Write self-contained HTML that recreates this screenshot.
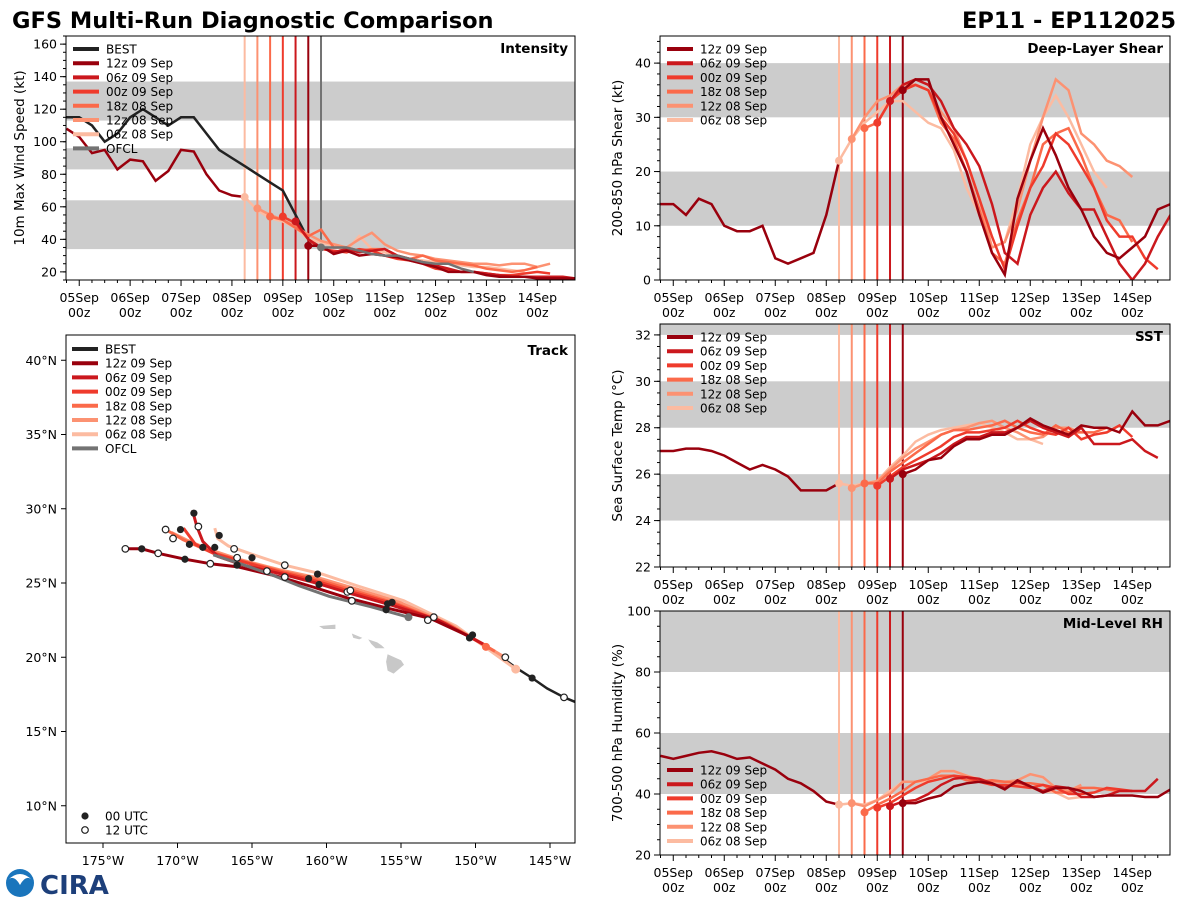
<!DOCTYPE html>
<html><head><meta charset="utf-8">
<style>
html,body{margin:0;padding:0;background:#fff;}
body{width:1200px;height:900px;overflow:hidden;font-family:"DejaVu Sans","Liberation Sans",sans-serif;}
svg text{font-family:"DejaVu Sans","Liberation Sans",sans-serif;}
</style></head>
<body>
<svg id="fig" width="1200" height="900" viewBox="0 0 1200 900" xmlns="http://www.w3.org/2000/svg">
<text x="12" y="28" font-size="22.5" font-weight="bold" fill="#000">GFS Multi-Run Diagnostic Comparison</text>
<text x="1176" y="28" font-size="22.5" font-weight="bold" fill="#000" text-anchor="end">EP11 - EP112025</text>
<g id="logo">
<circle cx="20" cy="883" r="14" fill="#1a75bc"/>
<path d="M8 880 Q20 868 32 880 Q26 874 20 885 Q14 874 8 880Z" fill="#fff"/>
<text x="40" y="894" font-size="26" font-weight="bold" fill="#1d3f7a" font-family="Liberation Serif,serif">CIRA</text>
</g>
</svg>
<script>
const NS='http://www.w3.org/2000/svg';
const svg=document.getElementById('fig');
function mk(tag,attrs,parent){const e=document.createElementNS(NS,tag);for(const k in attrs)e.setAttribute(k,attrs[k]);(parent||svg).appendChild(e);return e;}

// ---- shared data ----
const runNames=['12z 09 Sep','06z 09 Sep','00z 09 Sep','18z 08 Sep','12z 08 Sep','06z 08 Sep'];
const runColors=['#99000d','#cb181d','#ef3b2c','#fb6a4a','#fc9272','#fcbba1'];
const runStarts=[4.5,4.25,4.0,3.75,3.5,3.25];
const dayLabels=['05Sep','06Sep','07Sep','08Sep','09Sep','10Sep','11Sep','12Sep','13Sep','14Sep'];
const histStart=-0.25;

// ---- intensity ----
const intBest=[115,115,110,100,105,115,120,115,110,115,115,105,95,90,85,80,75,70,55,40,35];
const intHist=[108,103,93,95,83,89,88,76,82,95,94,80,70,67,66];
const intRuns=[
[36,36,31,33,30,31,30,29,27,25,23,20,20,20,18,17,17,17,16,16,16,16],
[51,40,35,32,34,32,33,34,30,28,26,24,22,20,20,19,18,17,17,17,17,17,16,16],
[54,50,40,34,33,32,34,33,30,28,27,25,22,21,20,20,19,18,18,19,20,19],
[54,52,47,42,46,35,35,33,34,34,30,28,30,27,26,25,24,22,21,20,21,23],
[59,55,52,48,43,39,37,35,40,44,37,33,31,30,28,27,26,25,25,24,25,25,23,25],
[66,58,53,51,47,40,38,36,33,42,34,32,30,28,27,26,25,24,23,23,22,21,20]];
const intOfcl=[35,35,35,33,31,30,30,28,26,25,25,22,20];
const intTicks=[20,40,60,80,100,120,140,160];

// ---- shear ----
const shrHist=[14,14,12,15,14,10,9,9,10,4,3,4,5,12,22];
const shrRuns=[
[35,37,37,30,25,20,12,5,1,15,22,28,23,17,13,8,5,4,6,8,13,14],
[33,36,37,36,33,28,25,21,14,5,3,12,17,20,16,13,13,8,3,0,3,8,12],
[29,33,35,36,35,30,27,22,15,8,2,10,17,21,27,25,21,17,11,8,8,4,2],
[28,29,33,35,36,35,29,26,20,13,5,3,11,17,25,27,28,23,17,12,11,7],
[26,30,33,34,36,36,35,31,28,22,15,6,7,13,22,30,37,35,27,25,22,21,19],
[22,26,29,31,33,33,31,29,28,24,17,12,6,7,15,25,30,34,30,25,20,17]];
const shrTicks=[0,10,20,30,40];

// ---- SST ----
const sstHist=[27.0,27.0,27.1,27.1,27.0,26.8,26.5,26.2,26.4,26.2,25.9,25.3,25.3,25.3,25.6];
const sstRuns=[
[26.0,26.2,26.6,26.7,27.2,27.5,27.5,27.7,27.7,28.0,28.4,28.1,27.9,27.7,28.1,28.0,28.0,27.8,28.7,28.1,28.1,28.3],
[25.8,26.2,26.4,26.6,26.9,27.3,27.6,27.6,27.8,27.8,28.0,28.3,28.0,27.8,27.6,28.0,27.3,27.3,27.3,27.5,27.0,26.7],
[25.5,25.9,26.3,26.6,26.9,27.2,27.6,27.8,27.8,27.9,28.0,28.3,28.0,27.8,27.7,28.0,27.5,27.7,27.8,28.1,27.6],
[25.6,25.6,26.1,26.5,26.9,27.3,27.7,27.9,27.9,28.0,28.1,28.3,28.0,27.8,27.7,28.1,27.8,27.8,27.8,28.0],
[25.4,25.6,25.7,26.2,26.7,27.1,27.4,27.7,27.9,28.0,28.2,28.3,28.0,27.8,27.5,27.6,28.0,28.0,27.8],
[25.6,25.5,25.6,25.7,26.3,26.8,27.4,27.7,27.9,28.0,28.1,28.2,28.0,27.8,27.5,27.5,27.3]];
const sstTicks=[22,24,26,28,30,32];

// ---- RH ----
const rhHist=[52.5,51.5,52.5,53.5,54,53,51.5,52,50,48,45,43.5,41,37.5,36.5];
const rhRuns=[
[37,37,38.5,39.5,42.5,43.5,44,43.5,41.5,44.5,42.5,40.5,42,42,41,39,39.5,39.5,39.5,39,39,41.5],
[36,37.5,38,40,43,45,45.5,45,43.5,42,44,42.5,41,42.5,42,39,39,39.5,41,41,41,45],
[35.5,37,39.5,42,44,45,46,45.5,44,43,43,42.5,42,43,42,40,40,40.5,42,41.5,41],
[34,36.5,38.5,41,44,45,46,46,44.5,44,44.5,44,43.5,43.5,43,40.5,40.5,42,42,41.5,41],
[37,36,38,40,44,44,45,47.5,47.5,46,44.5,44,44,44.5,46.5,45.5,42,41,43],
[36.5,37,36.5,38,41,44,44,44,47.5,47.5,46,45,44,44,43,42,41,40.5,38.5,39]];
const rhTicks=[20,40,60,80,100];

function panel(cfg){
  const g=mk('g',{});
  
  
  const L=cfg.left,T=cfg.top,W=cfg.w,H=cfg.h;
  const X=t=>L+(t+0.26)*W/10;
  const Y=v=>T+H-(v-cfg.ymin)/(cfg.ymax-cfg.ymin)*H;
  mk('rect',{x:L,y:T,width:W,height:H,fill:'#fff'},g);
  cfg.bands.forEach(b=>{const y1=Math.max(Y(b[1]),T),y2=Math.min(Y(b[0]),T+H);
    const r=mk('rect',{x:L,y:y1,width:W,height:y2-y1,fill:'#cccccc'},g);
    
    });
  const vl=cfg.ofcl?[[4.75,'#737373']]:[];
  runStarts.forEach((s,i)=>vl.push([s,runColors[i]]));
  vl.forEach(v=>{const l=mk('line',{x1:X(v[0]),x2:X(v[0]),y1:T,y2:T+H,stroke:v[1],'stroke-width':2},g);
    
    });
  const pts=(arr,t0)=>arr.map((v,i)=>X(t0+i*0.25).toFixed(1)+','+Y(v).toFixed(1)).join(' ');
  const clip='clip-'+cfg.name;
  const cp=mk('clipPath',{id:clip},g);mk('rect',{x:L,y:T,width:W,height:H},cp);
  const pg=mk('g',{'clip-path':'url(#'+clip+')'},g);
  if(cfg.best){const l=mk('polyline',{points:pts(cfg.best,histStart),fill:'none',stroke:'#222','stroke-width':2.5},pg);
    
    }
  const h=mk('polyline',{points:pts(cfg.hist,histStart),fill:'none',stroke:runColors[0],'stroke-width':2.5},pg);
  
  
  for(let i=5;i>=0;i--){
    const l=mk('polyline',{points:pts(cfg.runs[i],runStarts[i]),fill:'none',stroke:runColors[i],'stroke-width':2.5},pg);
    
    
    const c=mk('circle',{cx:X(runStarts[i]),cy:Y(cfg.runs[i][0]),r:4,fill:runColors[i]},pg);
    
    
  }
  if(cfg.ofcl){const l=mk('polyline',{points:pts(cfg.ofcl,4.75),fill:'none',stroke:'#737373','stroke-width':2.5},pg);
    
    
    mk('circle',{cx:X(4.75),cy:Y(cfg.ofcl[0]),r:4,fill:'#737373'},pg);}
  mk('rect',{x:L,y:T,width:W,height:H,fill:'none',stroke:'#000','stroke-width':1},g);
  for(let v=cfg.ymin;v<=cfg.ymax+1e-6;v+=cfg.minor){ if(Math.abs(v-Math.round(v/cfg.minor)*cfg.minor)>1e-6)continue;
    mk('line',{x1:L-3,x2:L,y1:Y(v),y2:Y(v),stroke:'#000','stroke-width':1},g);}
  cfg.ticks.forEach(v=>{mk('line',{x1:L-6,x2:L,y1:Y(v),y2:Y(v),stroke:'#000','stroke-width':1},g);
    const t=mk('text',{x:L-9,y:Y(v)+4.5,'font-size':12.5,'text-anchor':'end'},g);t.textContent=v;
    
    });
  for(let k=-1;k<=39;k++){const t=k*0.25;const x=X(t);if(x<L-0.5||x>L+W+0.5)continue;
    const major=k%4===0;mk('line',{x1:x,x2:x,y1:T+H,y2:T+H+(major?6:3),stroke:'#000','stroke-width':1},g);}
  dayLabels.forEach((d,i)=>{const x=X(i);
    const a=mk('text',{x:x,y:T+H+22,'font-size':12.5,'text-anchor':'middle'},g);a.textContent=d;
    
    
    const b=mk('text',{x:x,y:T+H+37,'font-size':12.5,'text-anchor':'middle'},g);b.textContent='00z';});
  const yt=mk('text',{x:0,y:0,'font-size':13.5,'text-anchor':'middle',transform:'translate('+cfg.ylabX+','+(T+H/2)+') rotate(-90)'},g);
  yt.textContent=cfg.ylabel;
  
  
  const tt=mk('text',{x:L+W-7,y:T+17,'font-size':13.5,'font-weight':'bold','text-anchor':'end'},g);
  tt.textContent=cfg.title;
  
  
  const items=[];
  if(cfg.best)items.push(['BEST','#222']);
  runNames.forEach((n,i)=>items.push([n,runColors[i]]));
  if(cfg.ofcl)items.push(['OFCL','#737373']);
  items.forEach((it,i)=>{const y=cfg.legY+i*14.2;
    const l=mk('line',{x1:L+7,x2:L+33,y1:y,y2:y,stroke:it[1],'stroke-width':4},g);
    
    
    const t=mk('text',{x:L+40,y:y+4.5,'font-size':12},g);t.textContent=it[0];
    
    });
}
panel({name:'intensity',left:66,top:36,w:509,h:244,ymin:15,ymax:165,minor:5,ticks:intTicks,bands:[[34,64],[83,96],[113,137]],
  best:intBest,hist:intHist,runs:intRuns,ofcl:intOfcl,ylabel:'10m Max Wind Speed (kt)',ylabX:24,title:'Intensity',legY:49});
panel({name:'shear',left:660,top:36,w:510,h:244,ymin:0,ymax:45,minor:2,ticks:shrTicks,bands:[[10,20],[30,40]],
  hist:shrHist,runs:shrRuns,ylabel:'200-850 hPa Shear (kt)',ylabX:622,title:'Deep-Layer Shear',legY:49});
panel({name:'sst',left:660,top:324,w:510,h:243,ymin:22,ymax:32.47,minor:0.5,ticks:sstTicks,bands:[[24,26],[28,30],[32,40]],
  hist:sstHist,runs:sstRuns,ylabel:'Sea Surface Temp (°C)',ylabX:622,title:'SST',legY:337});
panel({name:'rh',left:660,top:611,w:510,h:244,ymin:20,ymax:100,minor:5,ticks:rhTicks,bands:[[40,60],[80,100]],
  hist:rhHist,runs:rhRuns,ylabel:'700-500 hPa Humidity (%)',ylabX:622,title:'Mid-Level RH',legY:770});

// ---- track ----
const trkBestLon=[-143.1,-144.06,-145.2,-146.2,-147.3,-148.8,-150.4];
const trkBestLat=[16.9,17.3,17.9,18.6,19.3,20.4,21.4];
const trkOfclLon=[-154.5,-157,-159.8,-161.8,-163.8,-165.8,-167.6];
const trkOfclLat=[22.7,23.4,24.1,24.8,25.6,26.3,26.9];
const trkRunLon=[
[-150.4,-153,-155.9,-158.6,-160.8,-163.1,-166,-167.8,-169.5,-171.3,-172.4,-173.5],
[-149.5,-152.5,-155.6,-158.4,-160.7,-163,-165.6,-167.3,-168.3,-168.7,-169.0],
[-149.3,-152.3,-155.5,-158.3,-160.6,-163,-165.5,-167.6,-168.8,-169.6],
[-148.7,-152,-155.3,-158.2,-160.5,-163.1,-165.7,-167.8,-169.6,-170.8],
[-148.2,-151.7,-155.1,-158.0,-160.4,-163.2,-165.9,-168.0,-169.4,-170.4],
[-147.3,-151.3,-154.8,-157.9,-160.3,-162.8,-164.9,-166.6,-167.3,-167.5]];
const trkRunLat=[
[21.4,22.6,23.3,24.0,24.7,25.4,26.1,26.3,26.6,27.0,27.3,27.3],
[20.9,22.5,23.5,24.3,25.0,25.6,26.2,26.8,27.8,28.8,29.9],
[20.8,22.4,23.6,24.4,25.1,25.7,26.4,27.0,27.6,28.7],
[20.4,22.3,23.6,24.5,25.2,25.8,26.5,27.1,27.9,28.6],
[20.1,22.2,23.7,24.6,25.3,25.9,26.6,27.3,27.9,28.4],
[19.2,22.1,23.8,24.8,25.6,26.2,26.9,27.5,28.0,28.7]];
const dot00Lon=[-155.9,-155.6,-156,-150.4,-150.2,-146.2,-161.2,-160.6,-165,-167.2,-168.9,-169.8,-168.3,-169.2,-169.5,-172.4,-167.5,-160.5,-166];
const dot00Lat=[23.6,23.7,23.2,21.3,21.5,18.6,25.3,25.6,26.7,28.2,29.7,28.6,27.4,27.6,26.6,27.3,27.4,24.9,26.2];
const dot12Lon=[-173.5,-171.3,-170.8,-170.3,-168.6,-167.8,-166.2,-166.0,-164.0,-162.8,-162.8,-158.6,-158.4,-158.3,-153.2,-152.8,-148.0,-144.06];
const dot12Lat=[27.3,27.0,28.6,28.0,28.8,26.3,27.3,26.7,25.8,26.2,25.4,24.4,24.5,23.8,22.5,22.7,20.0,17.3];
const latTicks=[10,15,20,25,30,35,40];
const lonTicks=[-175,-170,-165,-160,-155,-150,-145];
(function(){
  const L=66,T=335,W=509,H=508;
  const X=lon=>103+(lon+175)*14.9;
  const Y=lat=>583-(lat-25)*14.85;
  const g=mk('g',{});
  
  
  const cp=mk('clipPath',{id:'clip-track'},g);mk('rect',{x:L,y:T,width:W,height:H},cp);
  const pg=mk('g',{'clip-path':'url(#clip-track)'},g);
  [['-160.5,22.1 -159.4,22.2 -159.4,21.9 -160.2,21.9'],['-158.3,21.6 -157.6,21.3 -157.8,21.2 -158.2,21.3'],
   ['-157.2,21.2 -156.6,21.0 -156.3,20.8 -156.1,20.6 -156.7,20.6 -157.0,20.9'],
   ['-155.9,20.2 -155.0,19.8 -154.8,19.5 -155.5,18.9 -155.9,19.1 -156.0,19.7']].forEach(p=>{
    const s=p[0].split(' ').map(q=>{const a=q.split(',');return X(+a[0]).toFixed(1)+','+Y(+a[1]).toFixed(1);}).join(' ');
    const e=mk('polygon',{points:s,fill:'#c8c8c8'},pg);
    
    });
  const line=(lo,la,c,w,name)=>{const e=mk('polyline',{points:lo.map((v,i)=>X(v).toFixed(1)+','+Y(la[i]).toFixed(1)).join(' '),fill:'none',stroke:c,'stroke-width':w,'stroke-linejoin':'round'},pg);
    
    };
  line(trkBestLon,trkBestLat,'#222',2.5,'best-track');
  for(let i=5;i>=0;i--)line(trkRunLon[i],trkRunLat[i],runColors[i],3,'track-'+runNames[i].replace(/ /g,'-').toLowerCase());
  line(trkOfclLon,trkOfclLat,'#737373',3,'ofcl-track');
  mk('circle',{cx:X(-154.5),cy:Y(22.7),r:4,fill:'#737373'},pg);
  mk('circle',{cx:X(-149.3),cy:Y(20.7),r:4,fill:'#fb6a4a'},pg);
  mk('circle',{cx:X(-147.3),cy:Y(19.2),r:4.5,fill:'#fcbba1'},pg);
  dot00Lon.forEach((v,i)=>{const c=mk('circle',{cx:X(v),cy:Y(dot00Lat[i]),r:3.6,fill:'#222'},pg);
    
    });
  dot12Lon.forEach((v,i)=>{const c=mk('circle',{cx:X(v),cy:Y(dot12Lat[i]),r:3.3,fill:'#fff',stroke:'#222','stroke-width':1.2},pg);
    
    });
  mk('rect',{x:L,y:T,width:W,height:H,fill:'none',stroke:'#000','stroke-width':1},g);
  latTicks.forEach(v=>{const y=Y(v);mk('line',{x1:L-5,x2:L,y1:y,y2:y,stroke:'#000'},g);
    const t=mk('text',{x:L-9,y:y+4.5,'font-size':12.5,'text-anchor':'end'},g);t.textContent=v+'°N';
    
    });
  lonTicks.forEach(v=>{const x=X(v);mk('line',{x1:x,x2:x,y1:T+H,y2:T+H+5,stroke:'#000'},g);
    const t=mk('text',{x:x,y:T+H+22,'font-size':12.5,'text-anchor':'middle'},g);t.textContent=(-v)+'°W';
    
    });
  const tt=mk('text',{x:L+W-7,y:T+20,'font-size':13.5,'font-weight':'bold','text-anchor':'end'},g);tt.textContent='Track';
  
  
  const items=[['BEST','#222']];runNames.forEach((n,i)=>items.push([n,runColors[i]]));items.push(['OFCL','#737373']);
  items.forEach((it,i)=>{const y=T+14+i*14.2;
    mk('line',{x1:L+6,x2:L+32,y1:y,y2:y,stroke:it[1],'stroke-width':4},g);
    const t=mk('text',{x:L+39,y:y+4.5,'font-size':12},g);t.textContent=it[0];
    
    });
  mk('circle',{cx:L+19,cy:816,r:3.6,fill:'#222'},g);
  const a=mk('text',{x:L+39,y:820.5,'font-size':12},g);a.textContent='00 UTC';
  
  
  mk('circle',{cx:L+19,cy:830,r:3.3,fill:'#fff',stroke:'#222','stroke-width':1.2},g);
  const b=mk('text',{x:L+39,y:834.5,'font-size':12},g);b.textContent='12 UTC';
  
  
})();
</script>
</body></html>
